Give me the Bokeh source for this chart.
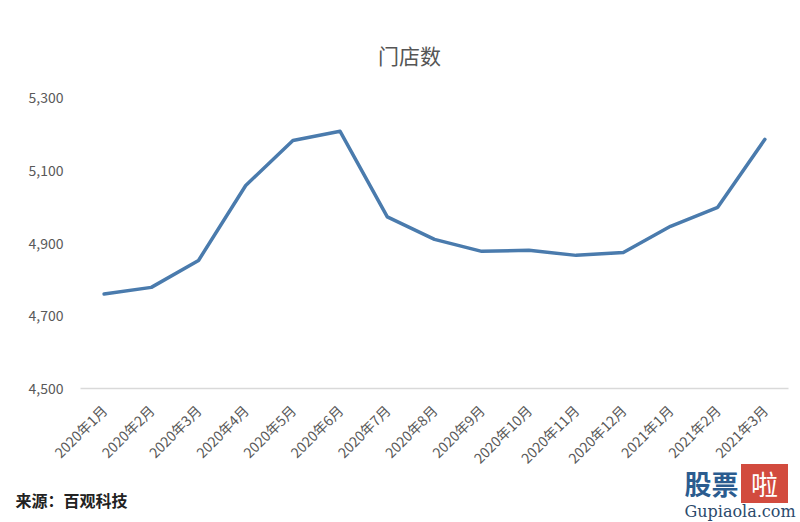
from bokeh.plotting import figure
from bokeh.models import Range1d, FixedTicker, NumeralTickFormatter, Label, LinearAxis
from bokeh.embed import file_html
from bokeh.resources import INLINE
import math

months = ["2020年1月", "2020年2月", "2020年3月", "2020年4月", "2020年5月", "2020年6月",
          "2020年7月", "2020年8月", "2020年9月", "2020年10月", "2020年11月", "2020年12月",
          "2021年1月", "2021年2月", "2021年3月"]
stores = [4760, 4778, 4852, 5058, 5182, 5207, 4972, 4910, 4877, 4880, 4866, 4874, 4946, 4998, 5185]
y_ticks = [4500, 4700, 4900, 5100, 5300]
title_text = "门店数"
source_text = "来源：百观科技"

FONT = "Noto Sans CJK SC"
x_idx = list(range(len(months)))

# The frame covers the whole canvas; axes are drawn inside it at fixed locations.
p = figure(width=800, height=522, x_range=Range1d(-2.195, 14.754),
           y_range=Range1d(4131.6, 5566.7), output_backend="svg", toolbar_location=None,
           x_axis_location=None, y_axis_location=None,
           min_border_left=0, min_border_right=0, min_border_top=0, min_border_bottom=0)
p.outline_line_color = None
p.background_fill_color = "white"
p.border_fill_color = "white"
p.grid.visible = False

p.line(x_idx, stores, line_color="#4a7bad", line_width=3.5, line_join="round", line_cap="round")

yaxis = LinearAxis(fixed_location=-0.5, bounds=(y_ticks[0], y_ticks[-1]))
yaxis.ticker = FixedTicker(ticks=y_ticks)
yaxis.formatter = NumeralTickFormatter(format="0,0")
yaxis.axis_line_color = None
yaxis.major_tick_line_color = None
yaxis.minor_tick_line_color = None
yaxis.major_tick_out = 0
yaxis.minor_tick_out = 0
yaxis.major_label_standoff = 17
yaxis.major_label_text_font = FONT
yaxis.major_label_text_font_size = "14px"
yaxis.major_label_text_color = "#595959"
p.add_layout(yaxis, "left")

xaxis = LinearAxis(fixed_location=y_ticks[0], bounds=(-0.5, len(months) - 0.5))
xaxis.ticker = FixedTicker(ticks=x_idx)
xaxis.major_label_overrides = {i: m for i, m in zip(x_idx, months)}
xaxis.axis_line_color = "#d9d9d9"
xaxis.axis_line_width = 1.5
xaxis.major_tick_line_color = None
xaxis.minor_tick_line_color = None
xaxis.major_tick_out = 0
xaxis.minor_tick_out = 0
xaxis.major_label_orientation = math.pi / 4
xaxis.major_label_standoff = 19
xaxis.major_label_text_font = FONT
xaxis.major_label_text_font_size = "14px"
xaxis.major_label_text_color = "#595959"
p.add_layout(xaxis, "below")

# title, source note and site watermark (screen px from bottom-left)
p.add_layout(Label(x=409, y=468, x_units="screen", y_units="screen", text=title_text,
                   text_font=FONT, text_font_size="21px", text_color="#555555",
                   text_align="center", text_baseline="middle"))
p.add_layout(Label(x=15, y=23, x_units="screen", y_units="screen", text=source_text,
                   text_font=FONT, text_font_size="16px", text_color="#222222",
                   text_font_style="bold", text_align="left", text_baseline="middle"))
p.add_layout(Label(x=684, y=39, x_units="screen", y_units="screen", text="股票",
                   text_font=FONT, text_font_size="27px", text_color="#2b5c8f",
                   text_font_style="bold", text_align="left", text_baseline="middle"))
p.add_layout(Label(x=764, y=39, x_units="screen", y_units="screen", text="啦",
                   text_font=FONT, text_font_size="27px", text_color="white",
                   background_fill_color="#d24b3e",
                   padding={"left": 10, "right": 10, "top": 0, "bottom": 0},
                   text_align="center", text_baseline="middle"))
p.add_layout(Label(x=684, y=11, x_units="screen", y_units="screen", text="Gupiaola.com",
                   text_font="DejaVu Serif", text_font_size="16px", text_color="#2b4a6c",
                   text_align="left", text_baseline="middle"))

open("out.html", "w").write(file_html(p, INLINE))
